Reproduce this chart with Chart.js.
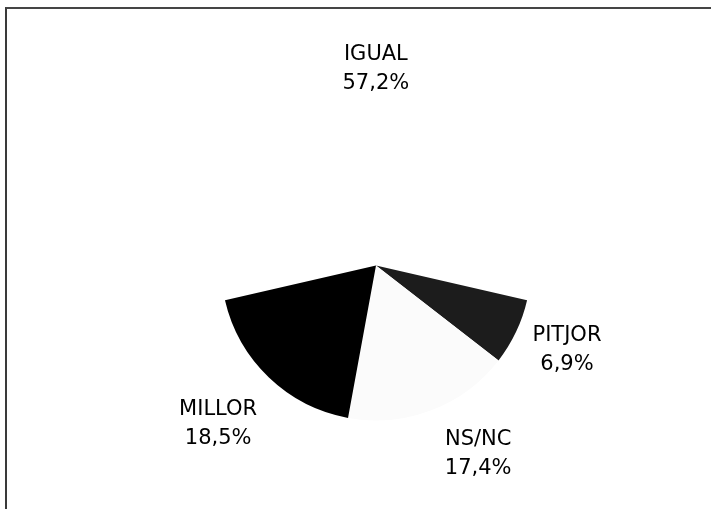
<!DOCTYPE html>
<html>
<head>
<meta charset="utf-8">
<script src="https://cdn.jsdelivr.net/npm/chart.js@4"></script>
<style>
  html, body { margin: 0; padding: 0; background: #fff; }
  .wrap { position: relative; width: 711px; height: 509px; overflow: hidden; }
  .frame {
    position: absolute; left: 5px; top: 7px; width: 720px; height: 520px;
    border-top: 2px solid #454545; border-left: 2px solid #3a3a3a;
    pointer-events: none;
  }
</style>
</head>
<body>
<div class="wrap">
  <canvas id="pieChart" width="711" height="509"></canvas>
  <div class="frame"></div>
</div>
<script>
// categories and shares (%), clockwise starting with IGUAL
const categories = ['IGUAL', 'PITJOR', 'NS/NC', 'MILLOR'];
const shares = [57.2, 6.9, 17.4, 18.5];
const sliceColors = ['#ffffff', '#1c1c1c', '#fbfbfb', '#000000'];
// label placement: distance as multiple of radius, and nudge off the mid angle (deg)
const labelDistance = [1.265, 1.347, 1.385, 1.443];
const labelAngleShift = [0, -1.5, -7.5, 1.2];

function fmtPct(v) {
    return v.toFixed(1).replace('.', ',') + '%';
}

const outsideLabels = {
    id: 'outsideLabels',
    afterDatasetsDraw(chart) {
        const ctx = chart.ctx;
        const arcs = chart.getDatasetMeta(0).data;
        ctx.save();
        ctx.font = '21px "DejaVu Sans", Verdana, sans-serif';
        ctx.fillStyle = '#000';
        ctx.textAlign = 'center';
        ctx.textBaseline = 'middle';
        arcs.forEach((arc, i) => {
            const mid = (arc.startAngle + arc.endAngle) / 2 + labelAngleShift[i] * Math.PI / 180;
            const d = arc.outerRadius * labelDistance[i];
            const x = arc.x + Math.cos(mid) * d;
            const y = arc.y + Math.sin(mid) * d;
            ctx.fillText(categories[i], x, y - 14.5);
            ctx.fillText(fmtPct(shares[i]), x, y + 14.5);
        });
        ctx.restore();
    }
};

const ctx = document.getElementById('pieChart').getContext('2d');
const pieChart = new Chart(ctx, {
    type: 'pie',
    data: {
        labels: categories,
        datasets: [{
            data: shares,
            backgroundColor: sliceColors,
            borderWidth: 0,
            hoverOffset: 0
        }]
    },
    options: {
        responsive: false,
        animation: false,
        rotation: 257,
        radius: 155,
        layout: { padding: { left: 41, right: 0, top: 110, bottom: 88 } },
        plugins: {
            legend: { display: false },
            tooltip: { enabled: false }
        }
    },
    plugins: [outsideLabels]
});
</script>
</body>
</html>
